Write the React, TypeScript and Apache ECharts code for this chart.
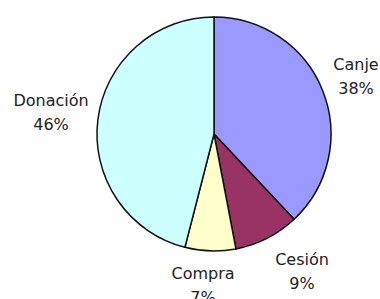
import React, { useEffect, useRef } from "react";
import * as echarts from "echarts";

const categories = ["Canje", "Cesión", "Compra", "Donación"];
const values = [38, 9, 7, 46];
const colors = ["#9999ff", "#993366", "#ffffcc", "#ccffff"];
// label block centres (layout only)
const labelPos: [number, number][] = [
  [356, 76],
  [302, 271],
  [203, 285],
  [51, 112],
];

export default function App() {
  const ref = useRef<HTMLDivElement>(null);
  useEffect(() => {
    if (!ref.current) return;
    const chart = echarts.init(ref.current, undefined, { renderer: "svg" });
    chart.setOption({
      animation: false,
      backgroundColor: "#ffffff",
      series: [
        {
          type: "pie",
          center: [214, 134],
          radius: [0, 117],
          startAngle: 90,
          clockwise: true,
          avoidLabelOverlap: false,
          data: categories.map((c, i) => ({
            name: c,
            value: values[i],
            itemStyle: { color: colors[i] },
          })),
          itemStyle: { borderColor: "#111111", borderWidth: 1.5 },
          emphasis: { disabled: true },
          label: {
            show: true,
            position: "outside",
            formatter: "{b}\n{d}%",
            fontFamily: "DejaVu Sans",
            fontSize: 16,
            lineHeight: 24,
            color: "#222222",
            align: "center",
          },
          labelLine: { show: false },
          labelLayout: (params: any) => {
            const p = labelPos[params.dataIndex];
            return { x: p[0], y: p[1], align: "center", verticalAlign: "middle" };
          },
        },
      ],
    });
    return () => chart.dispose();
  }, []);
  return (
    <div
      ref={ref}
      style={{ position: "fixed", left: 0, top: 0, width: 380, height: 299 }}
    />
  );
}
